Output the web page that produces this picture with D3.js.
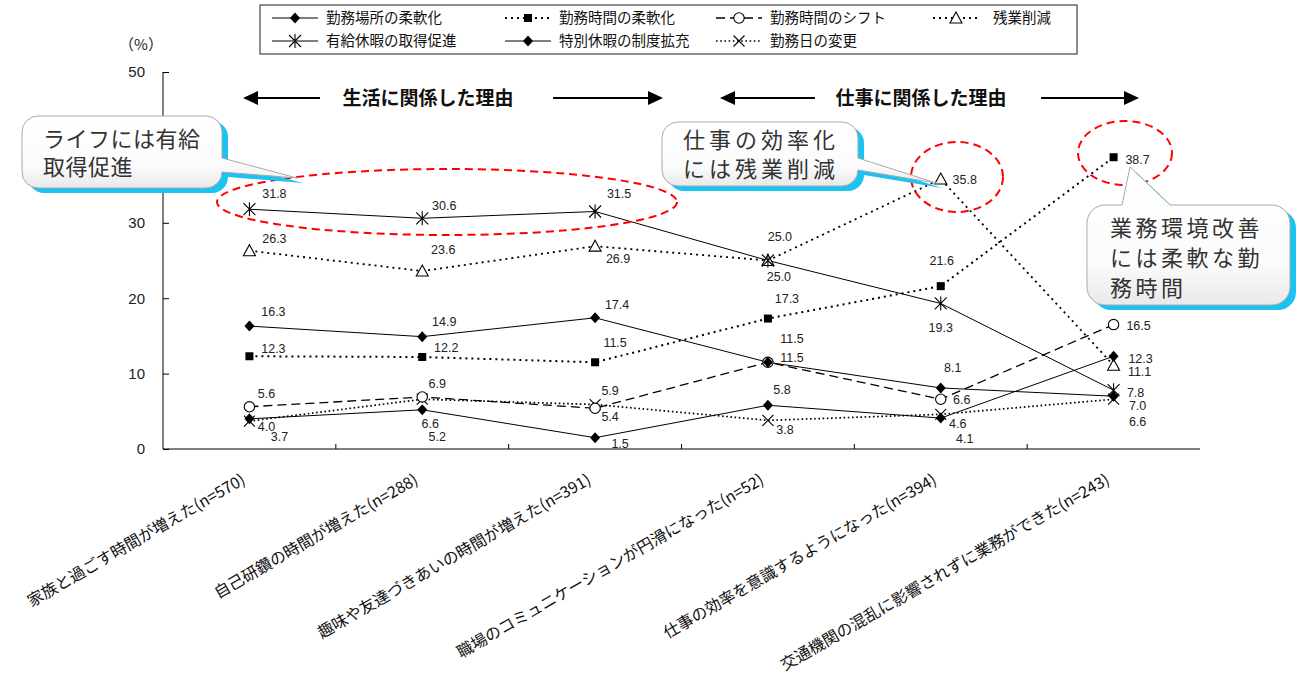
<!DOCTYPE html>
<html>
<head>
<meta charset="utf-8">
<script src="https://cdn.jsdelivr.net/npm/d3@7"></script>
<style>
  body { margin: 0; background: #fff; }
  svg { display: block; }
  text { font-family: "Noto Sans CJK JP", "Liberation Sans", sans-serif; }
  .num { font-family: "Liberation Sans", Arial, sans-serif; }
</style>
</head>
<body>
<svg id="chart" width="1300" height="684"></svg>
<script>
const categories = [
    "家族と過ごす時間が増えた(n=570)",
    "自己研鑽の時間が増えた(n=288)",
    "趣味や友達づきあいの時間が増えた(n=391)",
    "職場のコミュニケーションが円滑になった(n=52)",
    "仕事の効率を意識するようになった(n=394)",
    "交通機関の混乱に影響されずに業務ができた(n=243)"
];
const seriesNames = ["勤務場所の柔軟化", "勤務時間の柔軟化", "勤務時間のシフト", "残業削減",
    "有給休暇の取得促進", "特別休暇の制度拡充", "勤務日の変更"];

const workplace = [16.3, 14.9, 17.4, 11.5, 8.1, 7.0];
const hoursFlex = [12.3, 12.2, 11.5, 17.3, 21.6, 38.7];
const hoursShift = [5.6, 6.9, 5.4, 11.5, 6.6, 16.5];
const overtimeCut = [26.3, 23.6, 26.9, 25.0, 35.8, 11.1];
const paidLeave = [31.8, 30.6, 31.5, 25.0, 19.3, 7.8];
const specialLeave = [4.0, 5.2, 1.5, 5.8, 4.1, 12.3];
const workdayChange = [3.7, 6.6, 5.9, 3.8, 4.6, 6.6];

const yTicks = [0, 10, 20, 30, 40, 50];
const groupTitles = ["生活に関係した理由", "仕事に関係した理由"];
const calloutTexts = [
    ["ライフには有給", "取得促進"],
    ["仕事の効率化", "には残業削減"],
    ["業務環境改善", "には柔軟な勤", "務時間"]
];

// label nudges (px) for each value label, same order as the series
const labelShift = {
    "勤務場所の柔軟化": [[24, -14], [22, -15], [22, -13], [24, -24], [12, -20], [24, 9]],
    "勤務時間の柔軟化": [[24, -8], [24, -9], [20, -20], [19, -20], [1, -26], [24, 2]],
    "勤務時間のシフト": [[17, -13], [15, -13], [15, 8], [24, -5], [21, 0], [25, 1]],
    "残業削減": [[25, -12], [21, -21], [23, 12], [12, -24], [24, 1], [26, 6]],
    "有給休暇の取得促進": [[25, -16], [22, -13], [24, -18], [11, 16], [0, 24], [22, 2]],
    "特別休暇の制度拡充": [[17, 8], [15, 27], [25, 6], [14, -16], [24, 21], [27, 2]],
    "勤務日の変更": [[30, 16], [8, 24], [15, -14], [17, 9], [17, 9], [24, 22]]
};

(function (d3) {
    'use strict';

    const svg = d3.select("#chart");
    const plot = {left: 163, right: 1200, top: 72, bottom: 449};

    const x = d3.scaleBand().domain(categories).range([plot.left, plot.right]).padding(0);
    const cx = c => x(c) + x.bandwidth() / 2;
    const y = d3.scaleLinear().domain([0, 50]).range([plot.bottom, plot.top]);

    const series = [
        {name: seriesNames[0], values: workplace, dash: null, width: 1, marker: "diamond"},
        {name: seriesNames[1], values: hoursFlex, dash: "2,4", width: 2, marker: "square"},
        {name: seriesNames[2], values: hoursShift, dash: "9,5", width: 1.3, marker: "circle"},
        {name: seriesNames[3], values: overtimeCut, dash: "2,4", width: 1.8, marker: "triangle"},
        {name: seriesNames[4], values: paidLeave, dash: null, width: 1, marker: "asterisk"},
        {name: seriesNames[5], values: specialLeave, dash: null, width: 1, marker: "diamond"},
        {name: seriesNames[6], values: workdayChange, dash: "1.6,2.6", width: 1.7, marker: "cross"}
    ];

    // axes
    const yAxis = d3.axisLeft(y).tickValues(yTicks).tickSize(-6).tickPadding(18);
    const gy = svg.append("g").attr("transform", `translate(${plot.left},0)`).call(yAxis);
    gy.select(".domain").attr("d", `M0,${plot.top}V${plot.bottom}`).attr("stroke", "#000");
    gy.selectAll(".tick line").attr("stroke", "#000");
    gy.selectAll(".tick text").attr("class", "num").style("font-size", "15px").attr("fill", "#222");

    const gx = svg.append("g").attr("transform", `translate(0,${plot.bottom})`);
    gx.append("line").attr("x1", plot.left).attr("x2", plot.right).attr("stroke", "#000");
    gx.selectAll("line.tk").data(categories.slice(1)).enter().append("line")
        .attr("class", "tk").attr("x1", d => x(d)).attr("x2", d => x(d))
        .attr("y1", 0).attr("y2", -5).attr("stroke", "#000");

    svg.append("g").selectAll("text").data(categories).enter().append("text")
        .attr("transform", d => `translate(${cx(d) - 3},483) rotate(-30)`)
        .attr("text-anchor", "end")
        .style("font-size", "16px")
        .attr("fill", "#111")
        .text(d => d);

    svg.append("text").attr("x", 141).attr("y", 50)
        .attr("text-anchor", "middle").style("font-size", "15px").attr("fill", "#222").text("（%）");

    // group headers with arrows
    const arrows = [
        {text: groupTitles[0], tx: 428, l: [320, 243], r: [553, 663]},
        {text: groupTitles[1], tx: 921, l: [815, 720], r: [1041, 1139]}
    ];
    arrows.forEach(a => {
        const g = svg.append("g");
        g.append("text").attr("x", a.tx).attr("y", 105).attr("text-anchor", "middle")
            .style("font-size", "19px").style("font-weight", "700").attr("fill", "#111").text(a.text);
        g.append("line").attr("x1", a.l[0]).attr("x2", a.l[1] + 12).attr("y1", 98).attr("y2", 98)
            .attr("stroke", "#000").attr("stroke-width", 2);
        g.append("path").attr("d", `M${a.l[1]},98 L${a.l[1] + 15},91 L${a.l[1] + 15},105 Z`);
        g.append("line").attr("x1", a.r[0]).attr("x2", a.r[1] - 12).attr("y1", 98).attr("y2", 98)
            .attr("stroke", "#000").attr("stroke-width", 2);
        g.append("path").attr("d", `M${a.r[1]},98 L${a.r[1] - 15},91 L${a.r[1] - 15},105 Z`);
    });

    // markers
    function drawMarker(g, type, px, py) {
        if (type === "diamond") {
            g.append("path").attr("d", `M${px},${py - 5.5}L${px + 5},${py}L${px},${py + 5.5}L${px - 5},${py}Z`)
                .attr("fill", "#000");
        } else if (type === "square") {
            g.append("rect").attr("x", px - 4).attr("y", py - 4).attr("width", 8).attr("height", 8).attr("fill", "#000");
        } else if (type === "circle") {
            g.append("circle").attr("cx", px).attr("cy", py).attr("r", 5.2)
                .attr("fill", "#fff").attr("stroke", "#000").attr("stroke-width", 1.1);
        } else if (type === "triangle") {
            g.append("path").attr("d", `M${px},${py - 6}L${px + 6},${py + 5}L${px - 6},${py + 5}Z`)
                .attr("fill", "#fff").attr("stroke", "#000").attr("stroke-width", 1.1);
        } else if (type === "asterisk") {
            g.append("path").attr("d", `M${px - 6},${py - 6}L${px + 6},${py + 6}M${px + 6},${py - 6}L${px - 6},${py + 6}M${px},${py - 7}V${py + 7}`)
                .attr("stroke", "#000").attr("stroke-width", 1.1);
        } else if (type === "cross") {
            g.append("path").attr("d", `M${px - 5.5},${py - 5.5}L${px + 5.5},${py + 5.5}M${px + 5.5},${py - 5.5}L${px - 5.5},${py + 5.5}`)
                .attr("stroke", "#000").attr("stroke-width", 1.1);
        }
    }

    const line = d3.line().x((d, i) => cx(categories[i])).y(d => y(d));
    const gLines = svg.append("g");
    series.forEach(s => {
        gLines.append("path").attr("d", line(s.values)).attr("fill", "none")
            .attr("stroke", "#000").attr("stroke-width", s.width)
            .attr("stroke-dasharray", s.dash);
    });

    const markerOrder = [3, 4, 6, 2, 0, 1, 5];
    const gMarks = svg.append("g");
    markerOrder.forEach(k => {
        const s = series[k];
        s.values.forEach((v, i) => drawMarker(gMarks, s.marker, cx(categories[i]), y(v)));
    });

    const gLabels = svg.append("g");
    series.forEach(s => {
        s.values.forEach((v, i) => {
            const off = labelShift[s.name][i];
            gLabels.append("text").attr("class", "num")
                .attr("x", cx(categories[i]) + off[0]).attr("y", y(v) + off[1])
                .attr("dy", "0.35em").attr("text-anchor", "middle")
                .style("font-size", "12.5px").attr("fill", "#222")
                .text(v.toFixed(1));
        });
    });

    // legend
    const legend = svg.append("g");
    legend.append("rect").attr("x", 260).attr("y", 5).attr("width", 817).attr("height", 49)
        .attr("fill", "#fff").attr("stroke", "#444").attr("stroke-width", 1.2);
    const legendCols = [272, 505, 716, 933];
    series.forEach((s, k) => {
        const row = k < 4 ? 0 : 1;
        const col = k < 4 ? k : k - 4;
        const lx = legendCols[col], ly = row === 0 ? 18 : 41;
        legend.append("line").attr("x1", lx).attr("x2", lx + 46).attr("y1", ly).attr("y2", ly)
            .attr("stroke", "#000").attr("stroke-width", s.width).attr("stroke-dasharray", s.dash);
        drawMarker(legend, s.marker, lx + 23, ly);
        legend.append("text").attr("x", lx + 54 + (col === 3 ? 6 : 0)).attr("y", ly).attr("dy", "0.36em")
            .style("font-size", "14.5px").attr("fill", "#111").text(s.name);
    });

    // red dashed ellipses
    const ellipses = [
        {cx: 447, cy: 202, rx: 230, ry: 33},
        {cx: 957, cy: 177, rx: 46, ry: 35},
        {cx: 1125, cy: 153, rx: 47, ry: 32}
    ];
    svg.append("g").selectAll("ellipse").data(ellipses).enter().append("ellipse")
        .attr("cx", d => d.cx).attr("cy", d => d.cy).attr("rx", d => d.rx).attr("ry", d => d.ry)
        .attr("fill", "none").attr("stroke", "#f00").attr("stroke-width", 2).attr("stroke-dasharray", "8,5");

    // callouts
    const defs = svg.append("defs");
    const grad = defs.append("linearGradient").attr("id", "cg").attr("x1", 0).attr("y1", 0).attr("x2", 0).attr("y2", 1);
    grad.append("stop").attr("offset", "0%").attr("stop-color", "#ffffff");
    grad.append("stop").attr("offset", "70%").attr("stop-color", "#fbfbfb");
    grad.append("stop").attr("offset", "100%").attr("stop-color", "#e9e9e9");

    function calloutPath(b) {
        const {x: bx, y: by, w, h, r} = b;
        let p = `M${bx + r},${by}`;
        if (b.side === "top") p += `L${b.b0},${by}L${b.tx},${b.ty}L${b.b1},${by}`;
        p += `L${bx + w - r},${by}A${r},${r} 0 0 1 ${bx + w},${by + r}`;
        if (b.side === "right") p += `L${bx + w},${b.b0}L${b.tx},${b.ty}L${bx + w},${b.b1}`;
        p += `L${bx + w},${by + h - r}A${r},${r} 0 0 1 ${bx + w - r},${by + h}`;
        p += `L${bx + r},${by + h}A${r},${r} 0 0 1 ${bx},${by + h - r}`;
        p += `L${bx},${by + r}A${r},${r} 0 0 1 ${bx + r},${by}Z`;
        return p;
    }

    const boxes = [
        {x: 22, y: 116, w: 200, h: 72, r: 16, side: "right", b0: 158, b1: 172, tx: 297, ty: 178,
            lines: calloutTexts[0], textX: 43, base: 147, step: 28, spacing: 0.5},
        {x: 662, y: 122, w: 196, h: 64, r: 16, side: "right", b0: 158, b1: 170, tx: 936, ty: 183,
            lines: calloutTexts[1], textX: 683, base: 148, step: 29, spacing: 4},
        {x: 1087, y: 205, w: 203, h: 100, r: 18, side: "top", b0: 1122, b1: 1170, tx: 1130, ty: 167,
            lines: calloutTexts[2], textX: 1110, base: 236, step: 30, spacing: 3.5}
    ];
    boxes.forEach(b => {
        const g = svg.append("g");
        g.append("path").attr("d", calloutPath(b)).attr("transform", "translate(6,5)").attr("fill", "#1bc3f0");
        g.append("path").attr("d", calloutPath(b)).attr("fill", "url(#cg)")
            .attr("stroke", "#a9a9a9").attr("stroke-width", 1);
        b.lines.forEach((t, i) => {
            g.append("text").attr("x", b.textX).attr("y", b.base + i * b.step)
                .style("font-size", "22px").style("letter-spacing", b.spacing + "px")
                .attr("fill", "#333").text(t);
        });
    });

}(d3));
</script>
</body>
</html>
